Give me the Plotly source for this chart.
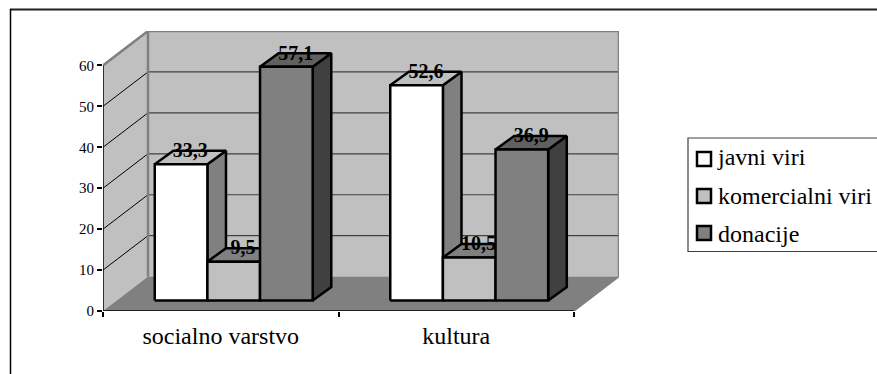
import plotly.graph_objects as go

# Source data
categories = ["socialno varstvo", "kultura"]
series_names = ["javni viri", "komercialni viri", "donacije"]
javni_viri = [33.3, 52.6]
komercialni_viri = [9.5, 10.5]
donacije = [57.1, 36.9]
value_labels = [["33,3", "52,6"], ["9,5", "10,5"], ["57,1", "36,9"]]
y_ticks = [0, 10, 20, 30, 40, 50, 60]

# Face colours per series: front, side, top
front_colors = ["#ffffff", "#c0c0c0", "#808080"]
side_colors = ["#808080", "#808080", "#404040"]
top_colors = ["#c0c0c0", "#808080", "#606060"]

# Oblique projection, in axis units (categories on x, percent on y)
WALL_DX, WALL_DY = 0.191, 8.4
BAR_DX, BAR_DY = 0.079, 3.3
BAR_SHIFT_X, BAR_BASE = 0.055, 2.55
BAR_W = 0.2235
Y_MAX = y_ticks[-1]
N = len(categories)

fig = go.Figure()


def poly(xs, ys, fill, line_color=None, width=0):
    fig.add_trace(go.Scatter(
        x=xs + xs[:1], y=ys + ys[:1], mode="lines", fill="toself", fillcolor=fill,
        line=dict(color=line_color or fill, width=width, simplify=False),
        hoverinfo="skip", showlegend=False, cliponaxis=False,
    ))


def seg(xs, ys, color="#303030", width=1.2):
    fig.add_trace(go.Scatter(
        x=xs, y=ys, mode="lines", line=dict(color=color, width=width),
        hoverinfo="skip", showlegend=False, cliponaxis=False,
    ))


# Walls and floor
poly([0, WALL_DX, WALL_DX, 0], [Y_MAX, Y_MAX + WALL_DY, WALL_DY, 0], "#c0c0c0")
poly([WALL_DX, N + WALL_DX, N + WALL_DX, WALL_DX],
     [WALL_DY, WALL_DY, Y_MAX + WALL_DY, Y_MAX + WALL_DY], "#c0c0c0")
for t in y_ticks[1:-1]:
    seg([0, WALL_DX], [t, t + WALL_DY], "#000000", 1)
    seg([WALL_DX, N + WALL_DX], [t + WALL_DY, t + WALL_DY], "#404040", 1.2)
poly([0, N, N + WALL_DX, WALL_DX], [0, 0, WALL_DY, WALL_DY], "#808080")
seg([WALL_DX, WALL_DX, N + WALL_DX, N + WALL_DX], [WALL_DY, Y_MAX + WALL_DY, Y_MAX + WALL_DY, WALL_DY],
    "#808080", 2.5)
seg([0, WALL_DX], [Y_MAX, Y_MAX + WALL_DY], "#808080", 2.5)
seg([N, N + WALL_DX], [0, WALL_DY], "#808080", 1.5)

# Value axes drawn along the front edge of the box
seg([0, 0], [0, Y_MAX], "#000000", 1.5)
seg([0, N], [0, 0], "#000000", 1.5)

# Bars, left to right within each category so neighbours overlap correctly
all_values = [javni_viri, komercialni_viri, donacije]
for c in range(N):
    for s, values in enumerate(all_values):
        v = values[c]
        x0 = c + 0.5 + BAR_SHIFT_X + (s - 1.5) * BAR_W
        x1 = x0 + BAR_W
        y0 = BAR_BASE
        y1 = BAR_BASE + v
        poly([x1, x1 + BAR_DX, x1 + BAR_DX, x1], [y0, y0 + BAR_DY, y1 + BAR_DY, y1],
             side_colors[s], "#000000", 2.5)
        poly([x0, x1, x1 + BAR_DX, x0 + BAR_DX], [y1, y1, y1 + BAR_DY, y1 + BAR_DY],
             top_colors[s], "#000000", 2.5)
        poly([x0, x1, x1, x0], [y0, y0, y1, y1], front_colors[s], "#000000", 2.5)
        fig.add_trace(go.Scatter(
            x=[(x0 + x1) / 2 + BAR_DX / 2], y=[y1 + BAR_DY - 0.3], mode="text",
            text=[value_labels[s][c]], textposition="middle center",
            textfont=dict(family="Liberation Serif", size=20, color="#000000", weight="bold"),
            hoverinfo="skip", showlegend=False, cliponaxis=False,
        ))

# Legend entries; their swatches are drawn as paper shapes beside the text
for s, name in enumerate(series_names):
    fig.add_trace(go.Scatter(
        x=[None], y=[None], mode="markers", name=name, legendgroup=name,
        marker=dict(symbol="square", size=1, color="rgba(0,0,0,0)"),
    ))

W, H = 877, 374
ML, MR, MT, MB = 103, 258, 31, 63


def px(x):
    return (x - ML) / (W - ML - MR)


def py(y):
    return 1 - (y - MT) / (H - MT - MB)


shapes = [
    dict(type="line", xref="paper", yref="paper", x0=px(10), x1=px(877), y0=py(9.5), y1=py(9.5),
         line=dict(color="#202020", width=2)),
    dict(type="line", xref="paper", yref="paper", x0=px(10.5), x1=px(10.5), y0=py(9), y1=py(374),
         line=dict(color="#000000", width=1.5)),
    dict(type="rect", xref="paper", yref="paper", x0=px(688), x1=px(878), y0=py(138), y1=py(251.5),
         line=dict(color="#404040", width=1.2), fillcolor="#ffffff", layer="below"),
]
for s, yc in enumerate([159, 196, 233]):
    shapes.append(dict(type="rect", xref="paper", yref="paper", x0=px(697), x1=px(711),
                       y0=py(yc - 7), y1=py(yc + 7), fillcolor=front_colors[s],
                       line=dict(color="#000000", width=2.5)))

fig.update_layout(
    width=W, height=H, margin=dict(l=ML, r=MR, t=MT, b=MB, pad=0, autoexpand=False),
    paper_bgcolor="#ffffff", plot_bgcolor="rgba(0,0,0,0)",
    font=dict(family="Liberation Serif", color="#000000"),
    shapes=shapes,
    showlegend=True,
    legend=dict(
        x=px(678), y=py(134), xanchor="left", yanchor="top",
        bgcolor="rgba(0,0,0,0)", borderwidth=0, tracegroupgap=4,
        font=dict(family="Liberation Serif", size=24, color="#000000"),
        itemclick=False, itemdoubleclick=False,
    ),
    xaxis=dict(
        range=[0, N + WALL_DX], showgrid=False, zeroline=False, showline=False,
        tickmode="array", tickvals=[c + 0.5 for c in range(N)], ticktext=categories,
        ticks="", tickfont=dict(family="Liberation Serif", size=24), ticklabelstandoff=8,
        minor=dict(tickmode="array", tickvals=list(range(N + 1)), ticks="outside",
                   ticklen=5, tickwidth=1.5, tickcolor="#000000", showgrid=False),
    ),
    yaxis=dict(
        range=[0, Y_MAX + WALL_DY], showgrid=False, zeroline=False, showline=False,
        tickmode="array", tickvals=y_ticks, ticks="outside", ticklen=5, tickwidth=1.5,
        tickcolor="#000000", tickfont=dict(family="Liberation Serif", size=15),
    ),
)

fig.write_html("out.html")
